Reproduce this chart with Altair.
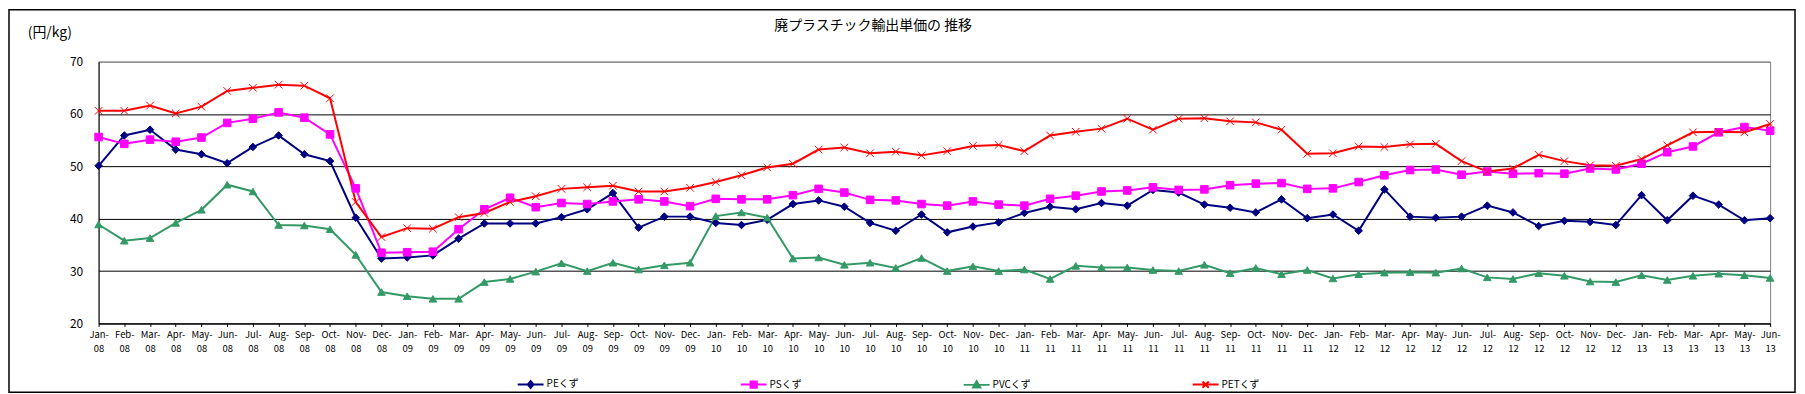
import altair as alt
import pandas as pd

# ---------------- data ----------------
MONTH_NAMES = ["Jan", "Feb", "Mar", "Apr", "May", "Jun",
               "Jul", "Aug", "Sep", "Oct", "Nov", "Dec"]
YEARS = ["08", "09", "10", "11", "12", "13"]
months = [f"{m}-{y}" for y in YEARS for m in MONTH_NAMES][:66]

SERIES = ["PEくず", "PSくず", "PVCくず", "PETくず"]

pe = [50.1, 55.9, 57.0, 53.2, 52.3, 50.6, 53.7, 55.9, 52.3, 51.0, 40.2, 32.4,
      32.6, 33.0, 36.2, 39.1, 39.1, 39.1, 40.3, 41.8, 44.9, 38.3, 40.4, 40.4,
      39.2, 38.8, 39.8, 42.8, 43.5, 42.3, 39.2, 37.7, 40.8, 37.4, 38.5, 39.3,
      41.1, 42.3, 41.8, 43.0, 42.5, 45.5, 45.0, 42.7, 42.1, 41.2, 43.7, 40.1,
      40.8, 37.7, 45.6, 40.4, 40.2, 40.4, 42.5, 41.2, 38.6, 39.6, 39.4, 38.8,
      44.5, 39.7, 44.4, 42.7, 39.7, 40.1]
ps = [55.6, 54.3, 55.1, 54.7, 55.5, 58.3, 59.1, 60.3, 59.3, 56.1, 45.8, 33.5,
      33.6, 33.7, 38.0, 41.8, 44.0, 42.2, 43.0, 42.8, 43.3, 43.7, 43.3, 42.4,
      43.8, 43.7, 43.7, 44.5, 45.7, 45.0, 43.6, 43.5, 42.8, 42.5, 43.3, 42.7,
      42.5, 43.8, 44.4, 45.2, 45.4, 46.0, 45.5, 45.6, 46.4, 46.7, 46.8, 45.7,
      45.8, 47.0, 48.3, 49.3, 49.4, 48.4, 49.0, 48.6, 48.7, 48.6, 49.6, 49.4,
      50.5, 52.7, 53.8, 56.5, 57.5, 56.8]
pvc = [38.9, 35.8, 36.3, 39.2, 41.7, 46.5, 45.2, 38.8, 38.7, 38.0, 33.1, 26.0,
       25.2, 24.7, 24.7, 27.9, 28.5, 29.9, 31.5, 30.0, 31.6, 30.3, 31.1, 31.6,
       40.5, 41.2, 40.2, 32.4, 32.6, 31.2, 31.6, 30.6, 32.5, 30.0, 30.9, 30.0,
       30.3, 28.5, 31.0, 30.7, 30.7, 30.2, 30.0, 31.2, 29.6, 30.6, 29.4, 30.2,
       28.6, 29.4, 29.7, 29.8, 29.7, 30.5, 28.8, 28.5, 29.6, 29.1, 28.0, 27.9,
       29.2, 28.3, 29.1, 29.5, 29.2, 28.7]
pet = [60.6, 60.6, 61.6, 60.1, 61.4, 64.4, 65.0, 65.6, 65.4, 63.0, 43.2, 36.5,
       38.2, 38.1, 40.3, 41.1, 43.2, 44.3, 45.7, 46.0, 46.3, 45.2, 45.2, 45.9,
       47.0, 48.3, 49.8, 50.5, 53.2, 53.6, 52.5, 52.8, 52.1, 52.9, 53.9, 54.1,
       52.9, 55.9, 56.6, 57.2, 59.1, 57.0, 59.1, 59.2, 58.6, 58.4, 57.0, 52.4,
       52.5, 53.8, 53.7, 54.2, 54.3, 51.0, 49.0, 49.6, 52.2, 51.0, 50.2, 50.1,
       51.4, 54.0, 56.5, 56.6, 56.5, 58.1]

TITLE = "廃プラスチック輸出単価の 推移"
UNIT = "(円/kg)"
Y_TICKS = [20, 30, 40, 50, 60, 70]

rows = []
for name, vals in zip(SERIES, [pe, ps, pvc, pet]):
    for m, v in zip(months, vals):
        rows.append({"month": m, "series": name, "value": v})
df = pd.DataFrame(rows)

# ---------------- style ----------------
FONT = "Noto Sans CJK JP"
COLORS = ["#000080", "#FF00FF", "#339966", "#FF0000"]
PLOT_SHAPES = ["diamond", "square", "triangle-up", "M-1,-1L1,1M-1,1L1,-1"]
LEGEND_SHAPES = [
    "M-1,0L1,0M0,-0.26L0.22,0L0,0.26L-0.22,0Z",
    "M-1,0L1,0M-0.24,-0.24L0.24,-0.24L0.24,0.24L-0.24,0.24Z",
    "M-1,0L1,0M0,-0.28L0.28,0.2L-0.28,0.2Z",
    "M-1,0L1,0M-0.24,-0.24L0.24,0.24M-0.24,0.24L0.24,-0.24",
]
W, H = 1679, 263

x_enc = alt.X(
    "month:O", sort=months, title=None,
    scale=alt.Scale(padding=0),
    axis=alt.Axis(
        labelAngle=0, labelFont=FONT, labelFontSize=9.5, labelColor="black",
        labelExpr="[slice(datum.label, 0, 4), slice(datum.label, 4)]",
        labelLineHeight=14, labelPadding=3, labelOverlap=False, labelBound=False,
        tickSize=3, tickColor="black", domainColor="black", grid=False,
    ),
)
y_enc = alt.Y(
    "value:Q", title=None,
    scale=alt.Scale(domain=[20, 70], nice=False, zero=False),
    axis=alt.Axis(
        values=Y_TICKS, labelFont=FONT, labelFontSize=12, labelColor="black",
        labelPadding=16, ticks=False, domainColor="black",
        grid=True,
        gridColor={"condition": {"test": "datum.value >= 70", "value": "#808080"},
                   "value": "black"},
        gridOpacity=1,
    ),
)

base = alt.Chart(df).encode(x=x_enc, y=y_enc)

lines = base.mark_line(strokeWidth=2).encode(
    stroke=alt.Stroke("series:N", scale=alt.Scale(domain=SERIES, range=COLORS), legend=None),
    detail="series:N",
)
points = base.mark_point(opacity=1, strokeWidth=1, size=58).encode(
    fill=alt.Fill("series:N", scale=alt.Scale(domain=SERIES, range=COLORS), legend=None),
    stroke=alt.Stroke("series:N", scale=alt.Scale(domain=SERIES, range=COLORS), legend=None),
    shape=alt.Shape("series:N", scale=alt.Scale(domain=SERIES, range=PLOT_SHAPES), legend=None),
)

leg = alt.Legend(
    title=None, orient="none", direction="horizontal",
    legendX=420, legendY=310,
    symbolSize=676, symbolStrokeWidth=2, labelFont=FONT, labelFontSize=10,
    labelColor="black", labelOffset=2, columnPadding=158,
)
legend_layer = alt.Chart(df).transform_filter("false").mark_point(
    opacity=1, strokeWidth=2
).encode(
    fill=alt.Fill("series:N", scale=alt.Scale(domain=SERIES, range=COLORS), legend=leg),
    stroke=alt.Stroke("series:N", scale=alt.Scale(domain=SERIES, range=COLORS), legend=leg),
    shape=alt.Shape("series:N", scale=alt.Scale(domain=SERIES, range=LEGEND_SHAPES), legend=leg),
)

title_layer = alt.Chart(pd.DataFrame({"t": [TITLE]})).mark_text(
    font=FONT, fontSize=14, fontWeight="normal", color="black",
    align="center", baseline="middle"
).encode(text="t:N", x=alt.value(778), y=alt.value(-36))

unit_layer = alt.Chart(pd.DataFrame({"t": [UNIT]})).mark_text(
    font=FONT, fontSize=14, fontWeight="normal", color="black",
    align="center", baseline="middle"
).encode(text="t:N", x=alt.value(-49), y=alt.value(-29))

frame = alt.Chart(pd.DataFrame({"f": [0]})).mark_rect(
    filled=False, stroke="black", strokeWidth=1.5
).encode(x=alt.value(-90), x2=alt.value(1704), y=alt.value(-52), y2=alt.value(332))

chart = alt.layer(
    frame, lines, points, legend_layer, title_layer, unit_layer
).resolve_scale(
    fill="independent", stroke="independent", shape="independent"
).properties(
    width=W, height=H,
    autosize=alt.AutoSizeParams(type="none"),
    padding={"left": 91, "top": 53, "right": 27, "bottom": 70},
    background="white",
).configure_view(stroke="#808080", strokeWidth=1)

chart.save("out.html", embed_options={"renderer": "svg", "actions": False})
